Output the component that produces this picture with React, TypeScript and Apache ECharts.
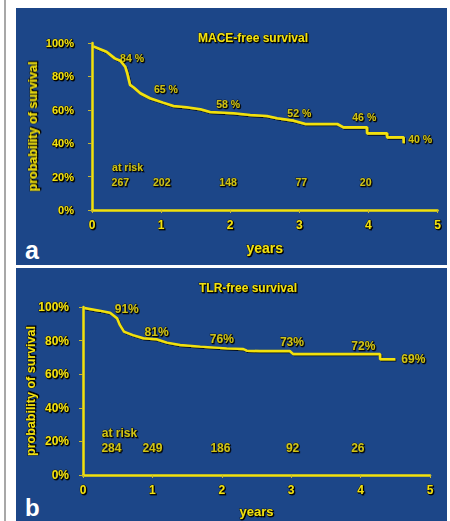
import React, { useEffect, useRef } from 'react';
import * as echarts from 'echarts';

// ---- data ----
const xTicks = [0, 1, 2, 3, 4, 5];
const yTicks = [0, 20, 40, 60, 80, 100];

const maceYears = [0.02, 0.21, 0.33, 0.41, 0.48, 0.51, 0.55, 0.6, 0.7, 0.84, 1.03, 1.18, 1.37, 1.57, 1.71, 2.05, 2.29, 2.53, 2.68, 2.92, 3.09, 3.55, 3.64, 3.98, 3.98, 4.27, 4.27, 4.51, 4.51];
const maceSurvival = [98, 94.8, 90.8, 89.4, 85.8, 81.8, 74.9, 73.5, 69.9, 66.9, 64.3, 62.3, 61.5, 60.3, 58.7, 57.9, 56.9, 56.3, 54.9, 53.5, 51.5, 51.5, 49.5, 49.5, 45.9, 45.9, 43.5, 43.5, 40];

const tlrYears = [0.02, 0.24, 0.39, 0.49, 0.53, 0.59, 0.72, 0.87, 1.06, 1.21, 1.4, 1.69, 2.07, 2.31, 2.36, 2.55, 2.98, 3.03, 4.28, 4.28, 4.5];
const tlrSurvival = [99.4, 97.8, 96.6, 93.3, 89.3, 85.3, 83.3, 81.4, 80.8, 78.8, 77.4, 76.4, 75.4, 75.0, 74.0, 73.8, 73.8, 72.0, 72.0, 68.9, 68.9];

const maceLabelText = ['84 %', '65 %', '58 %', '52 %', '46 %', '40 %'];
const maceLabelX = [0.58, 1.07, 1.97, 3.0, 3.94, 4.75];
const maceLabelY = [91, 72.5, 63.5, 58.1, 55.7, 42.5];

const tlrLabelText = ['91%', '81%', '76%', '73%', '72%', '69%'];
const tlrLabelX = [0.63, 1.06, 2.0, 3.01, 4.04, 4.76];
const tlrLabelY = [98.6, 84.9, 81.0, 79.0, 76.8, 68.9];

const maceAtRisk = ['267', '202', '148', '77', '20'];
const maceAtRiskX = [0.41, 1.01, 1.97, 3.03, 3.96];
const maceAtRiskY = 16.8;
const maceAtRiskTitle = { x: 0.29, y: 25.7 };

const tlrAtRisk = ['284', '249', '186', '92', '26'];
const tlrAtRiskX = [0.41, 1.0, 1.98, 3.02, 3.96];
const tlrAtRiskY = 15.9;
const tlrAtRiskTitle = { x: 0.27, y: 24.8 };

const YELLOW = '#f2e10b';
const BLUE = '#1c4688';
const FONT = '"Liberation Sans", Arial, sans-serif';
const SHADOW = {
  textBorderColor: 'rgba(20,20,10,0.75)', textBorderWidth: 1,
  textShadowColor: '#000000', textShadowOffsetX: 1, textShadowOffsetY: 1, textShadowBlur: 1,
};

function axes(gridIndex: number, big: boolean) {
  return {
    x: {
      type: 'value', gridIndex, min: 0, max: 5, interval: 1,
      name: 'years', nameLocation: 'middle', nameGap: big ? 30 : 31, nameMoveOverlap: false,
      nameTextStyle: { color: YELLOW, fontFamily: FONT, fontWeight: 'bold', fontSize: big ? 13 : 14, ...SHADOW },
      axisLine: { lineStyle: { color: YELLOW, width: 2.5 } },
      axisTick: { length: 3, lineStyle: { color: '#c8b830', width: 1 } },
      axisLabel: { color: YELLOW, fontFamily: FONT, fontWeight: 'bold', fontSize: 12, margin: 9, ...SHADOW, formatter: (v: number) => (xTicks.includes(v) ? String(v) : '') },
      splitLine: { show: false },
    },
    y: {
      type: 'value', gridIndex, min: 0, max: 100, interval: 20,
      name: 'probability of survival', nameLocation: 'middle', nameGap: big ? 46 : 53, nameMoveOverlap: false,
      nameTextStyle: { color: YELLOW, fontFamily: FONT, fontWeight: 'bold', fontSize: 12.5, ...SHADOW },
      axisLine: { lineStyle: { color: YELLOW, width: 2.5 } },
      axisTick: { length: 4, lineStyle: { color: '#c8b830', width: 1 } },
      axisLabel: { color: YELLOW, fontFamily: FONT, fontWeight: 'bold', fontSize: big ? 12 : 11, margin: big ? 14 : 18, ...SHADOW, formatter: (v: number) => (yTicks.includes(v) ? v + '%' : '') },
      splitLine: { show: false },
    },
  };
}

function textSeries(idx: number, xs: number[], ys: number[], texts: string[], big: boolean, align: string = 'center') {
  return {
    type: 'scatter', xAxisIndex: idx, yAxisIndex: idx, symbolSize: 0, silent: true,
    data: xs.map((x, i) => ({ value: [x, ys[i]], name: texts[i] })),
    label: {
      show: true, position: 'inside', formatter: '{b}', align,
      color: YELLOW, fontFamily: FONT, fontWeight: 'bold', fontSize: big ? 12 : 10.5, ...SHADOW,
    },
  };
}

export default function App() {
  const ref = useRef<HTMLDivElement>(null);
  useEffect(() => {
    if (!ref.current) return;
    const chart = echarts.init(ref.current, null, { renderer: 'svg' });
    const a = axes(0, false);
    const b = axes(1, true);
    const lineShadow = { shadowColor: 'rgba(0,0,0,0.85)', shadowBlur: 1, shadowOffsetX: 1, shadowOffsetY: 1 };
    chart.setOption({
      animation: false,
      backgroundColor: '#ffffff',
      graphic: [
        { type: 'rect', z: -10, shape: { x: 4, y: 0, width: 2, height: 521 }, style: { fill: '#a8a8a8' } },
        { type: 'rect', z: -10, shape: { x: 16, y: 8, width: 431, height: 257 }, style: { fill: BLUE } },
        { type: 'rect', z: -10, shape: { x: 16, y: 268, width: 431, height: 253 }, style: { fill: BLUE } },
        { type: 'text', x: 25, y: 250, style: { text: 'a', fill: '#ffffff', verticalAlign: 'middle', font: 'bold 25px "Liberation Sans", Arial, sans-serif' } },
        { type: 'text', x: 25, y: 507, style: { text: 'b', fill: '#ffffff', verticalAlign: 'middle', font: 'bold 24px "Liberation Sans", Arial, sans-serif' } },
      ],
      title: [
        { text: 'MACE-free survival', left: 248, top: 27, textAlign: 'center', textStyle: { color: YELLOW, fontFamily: FONT, fontWeight: 'bold', fontSize: 12, ...SHADOW } },
        { text: 'TLR-free survival', left: 243, top: 277, textAlign: 'center', textStyle: { color: YELLOW, fontFamily: FONT, fontWeight: 'bold', fontSize: 12, ...SHADOW } },
      ],
      grid: [
        { left: 92, right: 12.5, top: 43, bottom: 311 },
        { left: 83, right: 20, top: 307, bottom: 46 },
      ],
      xAxis: [a.x, b.x],
      yAxis: [a.y, b.y],
      series: [
        {
          type: 'line', xAxisIndex: 0, yAxisIndex: 0, showSymbol: false, silent: true,
          data: maceYears.map((x, i) => [x, maceSurvival[i]]),
          lineStyle: { color: YELLOW, width: 2.6, ...lineShadow },
        },
        {
          type: 'line', xAxisIndex: 1, yAxisIndex: 1, showSymbol: false, silent: true,
          data: tlrYears.map((x, i) => [x, tlrSurvival[i]]),
          lineStyle: { color: YELLOW, width: 2.4, ...lineShadow },
        },
        textSeries(0, maceLabelX, maceLabelY, maceLabelText, false),
        textSeries(1, tlrLabelX, tlrLabelY, tlrLabelText, true),
        textSeries(0, maceAtRiskX, maceAtRiskX.map(() => maceAtRiskY), maceAtRisk, false),
        textSeries(1, tlrAtRiskX, tlrAtRiskX.map(() => tlrAtRiskY), tlrAtRisk, true),
        textSeries(0, [maceAtRiskTitle.x], [maceAtRiskTitle.y], ['at risk'], false, 'left'),
        textSeries(1, [tlrAtRiskTitle.x], [tlrAtRiskTitle.y], ['at risk'], true, 'left'),
      ],
    });
    return () => chart.dispose();
  }, []);
  return <div ref={ref} style={{ position: 'absolute', left: 0, top: 0, width: 450, height: 521 }} />;
}
